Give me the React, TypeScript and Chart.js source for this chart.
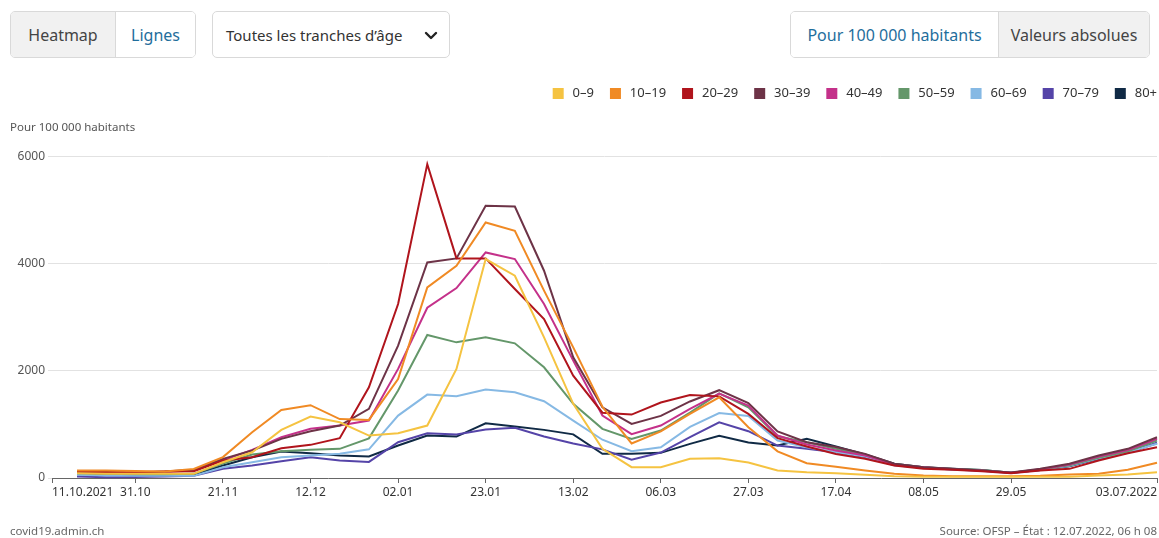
import React, { useEffect, useRef } from "react";
import { Chart, registerables } from "chart.js";

Chart.register(...registerables);

const ageGroups = ["0–9", "10–19", "20–29", "30–39", "40–49", "50–59", "60–69", "70–79", "80+"];
const groupColors = ["#f5c341", "#f08a24", "#b0141c", "#6d3347", "#c4318a", "#64976a", "#86b9e4", "#5544a8", "#102a45"];

const axisStart = "2021-10-11";
const axisEnd = "2022-07-03";
const firstWeekEnd = "2021-10-17";
const tickDates = ["2021-10-11", "2021-10-31", "2021-11-21", "2021-12-12", "2022-01-02", "2022-01-23", "2022-02-13", "2022-03-06", "2022-03-27", "2022-04-17", "2022-05-08", "2022-05-29", "2022-07-03"];
const tickLabels = ["11.10.2021", "31.10", "21.11", "12.12", "02.01", "23.01", "13.02", "06.03", "27.03", "17.04", "08.05", "29.05", "03.07.2022"];
const yTicks = [0, 2000, 4000, 6000];

const age0_9 = [90, 80, 80, 80, 78, 295, 481, 899, 1148, 1041, 793, 836, 980, 2038, 4090, 3779, 2627, 1385, 545, 202, 202, 358, 370, 290, 140, 108, 90, 60, 34, 22, 22, 22, 22, 22, 25, 47, 65, 108];
const age10_19 = [140, 140, 130, 120, 170, 390, 855, 1270, 1360, 1100, 1085, 1850, 3560, 3965, 4773, 4618, 3500, 2440, 1330, 645, 870, 1198, 1508, 948, 497, 276, 210, 140, 78, 47, 34, 34, 34, 40, 65, 80, 153, 284];
const age20_29 = [121, 108, 108, 121, 127, 327, 388, 556, 619, 743, 1694, 3250, 5863, 4102, 4102, 3530, 2970, 1913, 1220, 1185, 1410, 1552, 1525, 1198, 745, 588, 450, 358, 233, 171, 153, 127, 90, 140, 171, 327, 463, 575];
const age30_39 = [115, 110, 100, 120, 153, 358, 513, 731, 874, 980, 1291, 2472, 4027, 4102, 5085, 5072, 3872, 2255, 1321, 1011, 1160, 1430, 1640, 1400, 870, 668, 580, 451, 265, 202, 171, 140, 103, 171, 265, 420, 545, 762];
const age40_49 = [100, 95, 90, 110, 140, 330, 526, 762, 918, 980, 1073, 2038, 3180, 3549, 4214, 4090, 3250, 2193, 1166, 818, 980, 1291, 1577, 1353, 793, 625, 513, 420, 250, 200, 165, 140, 100, 165, 250, 400, 520, 730];
const age50_59 = [90, 80, 70, 70, 78, 270, 438, 500, 526, 545, 740, 1633, 2672, 2534, 2627, 2516, 2068, 1385, 918, 731, 886, 1220, 1580, 1321, 780, 668, 545, 430, 260, 200, 170, 150, 100, 160, 240, 380, 500, 700];
const age60_69 = [60, 45, 40, 40, 40, 202, 295, 388, 420, 451, 535, 1166, 1558, 1527, 1651, 1602, 1434, 1073, 715, 500, 575, 955, 1213, 1160, 700, 575, 481, 400, 250, 190, 160, 140, 100, 150, 230, 370, 480, 640];
const age70_79 = [30, 15, 20, 30, 40, 171, 233, 313, 388, 327, 300, 668, 834, 812, 905, 937, 774, 644, 535, 342, 475, 762, 1041, 874, 606, 545, 481, 390, 240, 190, 160, 135, 95, 150, 230, 360, 470, 660];
const age80plus = [70, 60, 55, 55, 60, 233, 388, 494, 463, 420, 401, 606, 793, 774, 1023, 961, 899, 815, 451, 451, 470, 638, 787, 662, 606, 731, 588, 440, 265, 200, 175, 150, 100, 150, 220, 360, 480, 650];

const seriesValues = [age0_9, age10_19, age20_29, age30_39, age40_49, age50_59, age60_69, age70_79, age80plus];

const DAY = 86400000;
const toDay = (s: string) => (Date.parse(s) - Date.parse(axisStart)) / DAY;

const FONT = "'Noto Sans', 'Open Sans', sans-serif";
const LEGEND_PAD = 17;

const legendShift = {
  id: "legendShift",
  afterLayout(chart: any) {
    const l = chart.legend;
    if (l) {
      l.left += LEGEND_PAD;
      l.right += LEGEND_PAD;
    }
  },
};

function ChartCanvas() {
  const ref = useRef<HTMLCanvasElement>(null);
  useEffect(() => {
    if (!ref.current) return;
    Chart.defaults.font.family = FONT;
    const startX = toDay(firstWeekEnd);
    const datasets = seriesValues.map((vals, i) => ({
      label: ageGroups[i],
      data: vals.map((v, k) => ({ x: startX + 7 * k, y: v })),
      borderColor: groupColors[i],
      backgroundColor: groupColors[i],
      borderWidth: 2,
      pointRadius: 0,
      tension: 0,
      clip: false as any,
    }));
    const tickDays = tickDates.map(toDay);
    const defaultLabels = (Chart as any).defaults.plugins.legend.labels.generateLabels;
    const chart = new Chart(ref.current, {
      type: "line",
      data: { datasets },
      plugins: [legendShift],
      options: {
        animation: false,
        responsive: false,
        maintainAspectRatio: false,
        layout: { padding: { top: 70, left: 10, right: 2, bottom: 30 } },
        plugins: {
          legend: {
            position: "top",
            align: "end",
            labels: {
              boxWidth: 9,
              boxHeight: 9,
              padding: LEGEND_PAD,
              color: "#333",
              font: { size: 13, family: FONT },
              generateLabels: (c: any) =>
                defaultLabels(c).map((item: any) => ({ ...item, text: " " + item.text })),
            },
          },
          title: {
            display: true,
            text: "Pour 100 000 habitants",
            align: "start",
            position: "top",
            weight: 500,
            color: "#555",
            font: { size: 11.5, weight: "normal", family: FONT },
            padding: { top: 11, bottom: 22 },
          } as any,
          tooltip: { enabled: false },
        },
        scales: {
          x: {
            type: "linear",
            min: toDay(axisStart),
            max: toDay(axisEnd),
            afterBuildTicks: (scale: any) => {
              scale.ticks = tickDays.map((v) => ({ value: v }));
            },
            afterFit: (scale: any) => {
              scale.height = 30;
            },
            ticks: {
              autoSkip: false,
              maxRotation: 0,
              align: "inner",
              padding: 2,
              color: "#333",
              font: { size: 12, family: FONT },
              callback: (v: any) => {
                const idx = tickDays.indexOf(v);
                return idx >= 0 ? tickLabels[idx] : "";
              },
            },
            grid: { drawOnChartArea: false, drawTicks: true, tickLength: 5, color: "#666" },
            border: { display: true, color: "#666", width: 1 },
          },
          y: {
            min: 0,
            max: 6000,
            afterBuildTicks: (scale: any) => {
              scale.ticks = yTicks.map((v) => ({ value: v }));
            },
            afterFit: (scale: any) => {
              scale.width = 42;
            },
            ticks: {
              padding: 3,
              color: "#555",
              font: { size: 12, family: FONT },
              callback: (v: any) => String(v),
            },
            grid: { color: "#e2e2e2", tickLength: 4, drawTicks: true },
            border: { display: false },
          },
        },
      },
    } as any);
    return () => chart.destroy();
  }, []);
  return <canvas ref={ref} width={1159} height={538} style={{ position: "absolute", left: 0, top: 0, width: 1159, height: 538 }} />;
}

const btnBase: React.CSSProperties = {
  display: "flex",
  alignItems: "center",
  justifyContent: "center",
  height: "100%",
  fontSize: 16,
  boxSizing: "border-box",
};

export default function App() {
  useEffect(() => {
    document.body.style.margin = "0";
  }, []);
  return (
    <div style={{ position: "relative", width: 1159, height: 538, fontFamily: FONT, background: "#fff", overflow: "hidden" }}>
      <ChartCanvas />
      {/* Heatmap / Lignes toggle */}
      <div style={{ position: "absolute", left: 10, top: 11, width: 186, height: 47, border: "1px solid #d9d9d9", borderRadius: 5, display: "flex", overflow: "hidden", boxSizing: "border-box" }}>
        <div style={{ ...btnBase, width: 105, background: "#f1f1f1", color: "#444", borderRight: "1px solid #d9d9d9" }}>Heatmap</div>
        <div style={{ ...btnBase, flex: 1, background: "#fff", color: "#1f6e9c" }}>Lignes</div>
      </div>
      {/* Dropdown */}
      <div style={{ position: "absolute", left: 212, top: 11, width: 238, height: 47, border: "1px solid #d9d9d9", borderRadius: 5, boxSizing: "border-box", display: "flex", alignItems: "center", padding: "0 0 0 13px", fontSize: 15, color: "#333", background: "#fff" }}>
        <span>Toutes les tranches d’âge</span>
        <svg width="14" height="10" viewBox="0 0 14 10" style={{ position: "absolute", left: 211, top: 19 }}>
          <polyline points="2,2 7,7 12,2" fill="none" stroke="#222" strokeWidth="2.4" strokeLinecap="round" strokeLinejoin="round" />
        </svg>
      </div>
      {/* Unit toggle */}
      <div style={{ position: "absolute", left: 790, top: 11, width: 360, height: 47, border: "1px solid #d9d9d9", borderRadius: 5, display: "flex", overflow: "hidden", boxSizing: "border-box" }}>
        <div style={{ ...btnBase, width: 208, background: "#fff", color: "#1f6e9c", borderRight: "1px solid #d9d9d9" }}>Pour 100 000 habitants</div>
        <div style={{ ...btnBase, flex: 1, background: "#f1f1f1", color: "#444" }}>Valeurs absolues</div>
      </div>
      {/* Footer */}
      <div style={{ position: "absolute", left: 10, top: 523, fontSize: 11.5, color: "#666", lineHeight: "15px" }}>covid19.admin.ch</div>
      <div style={{ position: "absolute", right: 2, top: 523, fontSize: 11.5, color: "#666", lineHeight: "15px" }}>Source: OFSP – État : 12.07.2022, 06 h 08</div>
    </div>
  );
}
